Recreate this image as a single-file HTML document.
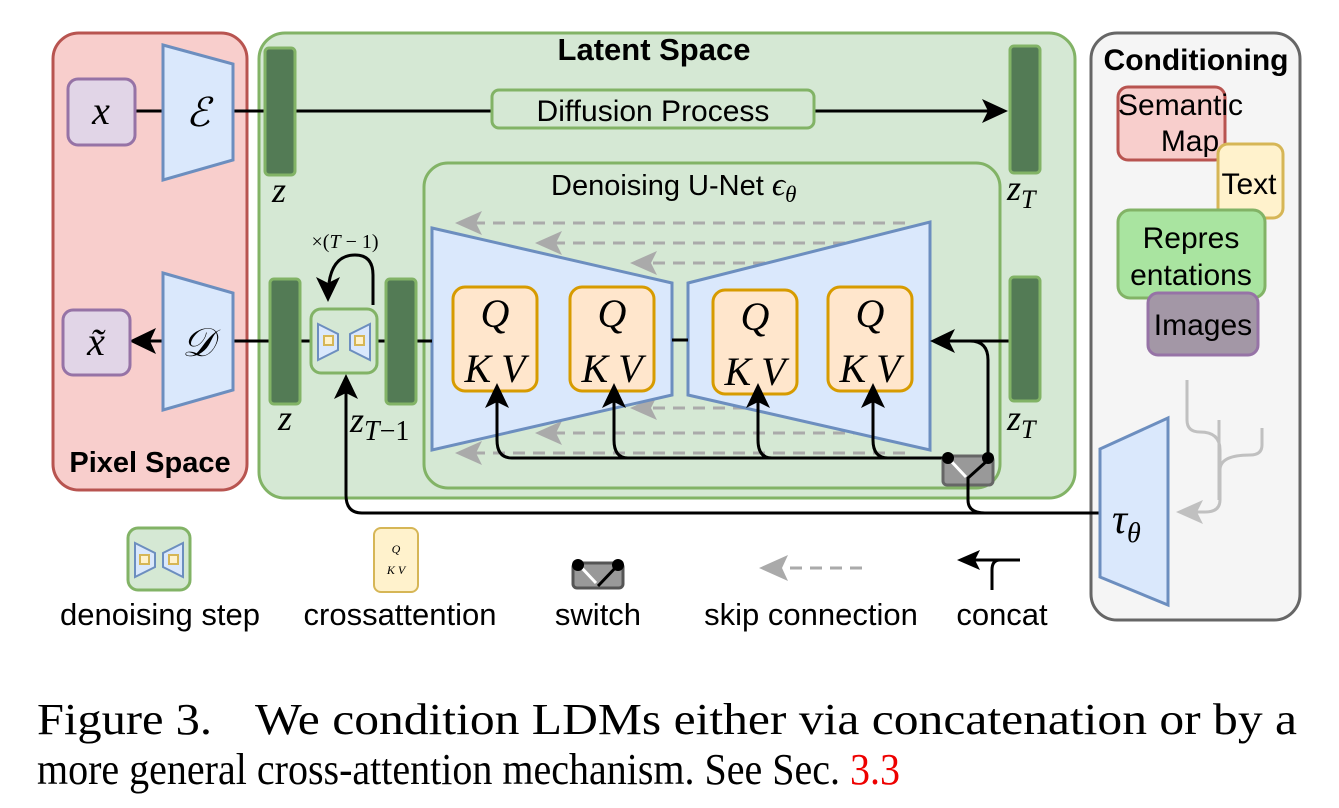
<!DOCTYPE html>
<html><head><meta charset="utf-8"><style>
html,body{margin:0;padding:0;background:#fff;}
svg{display:block}
.s{font-family:"Liberation Sans",sans-serif;}
.m{font-family:"Liberation Serif",serif;font-style:italic;}
</style></head><body>
<svg width="1339" height="808" viewBox="0 0 1339 808" xmlns="http://www.w3.org/2000/svg">
<rect x="53" y="33" width="194" height="457" rx="26" fill="#f8cecc" stroke="#b85450" stroke-width="3"/>
<rect x="259" y="33" width="816" height="465" rx="26" fill="#d5e8d4" stroke="#82b366" stroke-width="3"/>
<rect x="1091" y="33" width="209" height="587" rx="26" fill="#f5f5f5" stroke="#666" stroke-width="3"/>
<text x="654" y="60" class="s" font-size="31" font-weight="bold" text-anchor="middle">Latent Space</text>
<text x="1196" y="70" class="s" font-size="30" font-weight="bold" text-anchor="middle">Conditioning</text>
<text x="150" y="472" class="s" font-size="29" font-weight="bold" text-anchor="middle">Pixel Space</text>

<line x1="135" y1="111" x2="163" y2="111" stroke="#000" stroke-width="3"/>
<line x1="233" y1="111" x2="998" y2="111" stroke="#000" stroke-width="3"/>
<polygon points="1008,111 982,99 988,111 982,123" fill="#000"/>
<rect x="68" y="79" width="67" height="66" rx="10" fill="#e1d5e7" stroke="#9673a6" stroke-width="3"/>
<text x="101" y="124" class="m" font-size="40" text-anchor="middle">x</text>
<polygon points="163,45 233,64 233,160 163,180" fill="#dae8fc" stroke="#6c8ebf" stroke-width="3"/>
<text x="198" y="126" class="m" font-size="40" text-anchor="middle">ℰ</text>
<rect x="265" y="48" width="30" height="127" rx="4" fill="#537b55" stroke="#82b366" stroke-width="3"/>
<text x="279" y="202" class="m" font-size="36" text-anchor="middle">z</text>
<rect x="492" y="90" width="322" height="38" rx="7" fill="#d5e8d4" stroke="#82b366" stroke-width="3"/>
<text x="653" y="121" class="s" font-size="30" text-anchor="middle">Diffusion Process</text>
<rect x="1010" y="46" width="30" height="127" rx="4" fill="#537b55" stroke="#82b366" stroke-width="3"/>
<text x="1007" y="200" class="m" font-size="36">z<tspan font-size="26" dy="8">T</tspan></text>

<rect x="424" y="163" width="576" height="325" rx="24" fill="#d5e8d4" stroke="#82b366" stroke-width="3"/>
<text x="551" y="195" class="s" font-size="29">Denoising U-Net <tspan class="m" font-size="33">ϵ</tspan><tspan class="m" font-size="23" dy="7">θ</tspan></text>

<g stroke="#aaa" stroke-width="3" stroke-dasharray="12,8" fill="none">
<line x1="905" y1="223" x2="470" y2="223"/>
<line x1="905" y1="243" x2="550" y2="243"/>
<line x1="905" y1="263" x2="645" y2="263"/>
<line x1="905" y1="408" x2="645" y2="408"/>
<line x1="905" y1="433" x2="550" y2="433"/>
<line x1="905" y1="453" x2="470" y2="453"/>
</g>
<g fill="#aaa">
<polygon points="455,223 482,211 476,223 482,235"/>
<polygon points="535,243 562,231 556,243 562,255"/>
<polygon points="630,263 657,251 651,263 657,275"/>
<polygon points="630,408 657,396 651,408 657,420"/>
<polygon points="535,433 562,421 556,433 562,445"/>
<polygon points="455,453 482,441 476,453 482,465"/>
</g>

<polygon points="432,228 672,283 672,395 432,450" fill="#dae8fc" stroke="#6c8ebf" stroke-width="3"/>
<polygon points="688,283 930,222 930,450 688,395" fill="#dae8fc" stroke="#6c8ebf" stroke-width="3"/>
<line x1="672" y1="340" x2="688" y2="340" stroke="#000" stroke-width="3"/>
<g fill="#ffe6cc" stroke="#d79b00" stroke-width="3">
<rect x="453" y="287" width="84" height="104" rx="12"/>
<rect x="570" y="287" width="84" height="104" rx="12"/>
<rect x="713" y="290" width="84" height="104" rx="12"/>
<rect x="828" y="287" width="84" height="104" rx="12"/>
</g>
<g class="m" font-size="40" text-anchor="middle">
<text x="495" y="327">Q</text><text x="495" y="382">K V</text>
<text x="612" y="327">Q</text><text x="612" y="382">K V</text>
<text x="755" y="330">Q</text><text x="755" y="385">K V</text>
<text x="870" y="327">Q</text><text x="870" y="382">K V</text>
</g>

<g stroke="#000" stroke-width="3" fill="none">
<path d="M948,458 H512 Q497,458 497,440 V395"/>
<path d="M628,458 Q614,458 614,440 V395"/>
<path d="M772,458 Q758,458 758,440 V395"/>
<path d="M888,458 Q873,458 873,440 V395"/>
<path d="M988,458 V360 Q988,341 970,341 H940"/>
<line x1="1010" y1="341" x2="940" y2="341"/>
<path d="M968,475 V500 Q968,513 985,513 H1100"/>
<path d="M1000,513 H362 Q346,513 346,495 V385"/>
</g>
<g fill="#000">
<polygon points="497,383 485,408 497,402 509,408"/>
<polygon points="614,383 602,408 614,402 626,408"/>
<polygon points="758,383 746,408 758,402 770,408"/>
<polygon points="873,383 861,408 873,402 885,408"/>
<polygon points="930,341 955,329 949,341 955,353"/>
<polygon points="346,374 334,399 346,393 358,399"/>
</g>
<rect x="943" y="456" width="50" height="29" rx="4" fill="#999" stroke="#666" stroke-width="3"/>
<line x1="950" y1="460" x2="966" y2="477" stroke="#fff" stroke-width="3"/>
<path d="M968,490 V478 L988,460" stroke="#000" stroke-width="3" fill="none"/>
<circle cx="948" cy="458" r="6" fill="#000"/>
<circle cx="988" cy="458" r="6" fill="#000"/>

<rect x="1010" y="277" width="30" height="124" rx="4" fill="#537b55" stroke="#82b366" stroke-width="3"/>
<text x="1007" y="430" class="m" font-size="36">z<tspan font-size="26" dy="8">T</tspan></text>

<line x1="140" y1="341" x2="163" y2="341" stroke="#000" stroke-width="3"/>
<polygon points="129,341 156,328 150,341 156,354" fill="#000"/>
<line x1="233" y1="341" x2="432" y2="341" stroke="#000" stroke-width="3"/>
<rect x="63" y="310" width="67" height="65" rx="10" fill="#e1d5e7" stroke="#9673a6" stroke-width="3"/>
<text x="96" y="355" class="m" font-size="40" text-anchor="middle">x̃</text>
<polygon points="163,273 233,293 233,390 163,410" fill="#dae8fc" stroke="#6c8ebf" stroke-width="3"/>
<text x="198" y="356" class="m" font-size="40" text-anchor="middle">𝒟</text>
<rect x="270" y="279" width="30" height="125" rx="4" fill="#537b55" stroke="#82b366" stroke-width="3"/>
<text x="285" y="430" class="m" font-size="36" text-anchor="middle">z</text>
<rect x="386" y="279" width="30" height="125" rx="4" fill="#537b55" stroke="#82b366" stroke-width="3"/>
<text x="350" y="432" class="m" font-size="36">z<tspan font-size="28" dy="8">T</tspan><tspan font-size="28" font-style="normal">−1</tspan></text>
<rect x="311" y="309" width="66" height="64" rx="10" fill="#d5e8d4" stroke="#82b366" stroke-width="3"/>
<polygon points="318,324 338,334 338,350 318,360" fill="#dae8fc" stroke="#6c8ebf" stroke-width="2"/>
<polygon points="370,324 350,334 350,350 370,360" fill="#dae8fc" stroke="#6c8ebf" stroke-width="2"/>
<rect x="324" y="336" width="9" height="9" fill="#fff2cc" stroke="#d6b656" stroke-width="2"/>
<rect x="355" y="336" width="9" height="9" fill="#fff2cc" stroke="#d6b656" stroke-width="2"/>
<path d="M373,305 V275 Q373,255 355,255 Q333,255 329,283" stroke="#000" stroke-width="3" fill="none"/>
<polygon points="328,302 316,277 328,283 340,277" fill="#000"/>
<text x="345" y="248" font-family="Liberation Serif, serif" font-size="20" text-anchor="middle">×(<tspan font-style="italic">T</tspan> − 1)</text>

<rect x="1118" y="87" width="107" height="73" rx="10" fill="#f8cecc" stroke="#b85450" stroke-width="3"/>
<text x="1118" y="115" class="s" font-size="30">Semantic</text>
<text x="1190" y="151" class="s" font-size="30" text-anchor="middle">Map</text>
<rect x="1218" y="144" width="65" height="74" rx="10" fill="#fff2cc" stroke="#d6b656" stroke-width="3"/>
<text x="1249" y="194" class="s" font-size="30" text-anchor="middle">Text</text>
<rect x="1118" y="210" width="147" height="88" rx="12" fill="#a9e4a0" stroke="#82b366" stroke-width="3"/>
<text x="1191" y="248" class="s" font-size="30" text-anchor="middle">Repres</text>
<text x="1191" y="285" class="s" font-size="30" text-anchor="middle">entations</text>
<rect x="1148" y="293" width="110" height="62" rx="10" fill="#a397a6" stroke="#9673a6" stroke-width="3"/>
<text x="1203" y="335" class="s" font-size="30" text-anchor="middle">Images</text>
<g stroke="#c0c0c0" stroke-width="3" fill="none">
<path d="M1187,380 V420 Q1187,432 1200,432 Q1220,432 1220,450 V500 Q1220,512 1205,512 H1195"/>
<path d="M1219,420 V500"/>
<path d="M1262,428 V445 Q1262,455 1250,455 Q1220,455 1220,470"/>
</g>
<polygon points="1176,512 1203,500 1197,512 1203,524" fill="#c0c0c0"/>
<polygon points="1100,449 1168,418 1168,605 1100,577" fill="#dae8fc" stroke="#6c8ebf" stroke-width="3"/>
<text x="1112" y="533" class="m" font-size="42">τ<tspan font-size="28" dy="9">θ</tspan></text>

<rect x="128" y="528" width="62" height="62" rx="10" fill="#d5e8d4" stroke="#82b366" stroke-width="3"/>
<polygon points="135,543 155,553 155,567 135,577" fill="#dae8fc" stroke="#6c8ebf" stroke-width="2"/>
<polygon points="183,543 163,553 163,567 183,577" fill="#dae8fc" stroke="#6c8ebf" stroke-width="2"/>
<rect x="140" y="555" width="9" height="9" fill="#fff2cc" stroke="#d6b656" stroke-width="2"/>
<rect x="169" y="555" width="9" height="9" fill="#fff2cc" stroke="#d6b656" stroke-width="2"/>
<text x="160" y="625" class="s" font-size="31" text-anchor="middle">denoising step</text>
<rect x="374" y="528" width="44" height="64" rx="7" fill="#fff2cc" stroke="#d6b656" stroke-width="2"/>
<text x="396" y="553" class="m" font-size="12" text-anchor="middle">Q</text>
<text x="396" y="574" class="m" font-size="12" text-anchor="middle">K V</text>
<text x="400" y="625" class="s" font-size="31" text-anchor="middle">crossattention</text>
<rect x="573" y="563" width="50" height="25" rx="4" fill="#999" stroke="#555" stroke-width="3"/>
<line x1="580" y1="566" x2="596" y2="583" stroke="#fff" stroke-width="3"/>
<path d="M598,586 L618,565" stroke="#000" stroke-width="3"/>
<circle cx="578" cy="565" r="6" fill="#000"/><circle cx="618" cy="565" r="6" fill="#000"/>
<text x="598" y="625" class="s" font-size="31" text-anchor="middle">switch</text>
<line x1="790" y1="568" x2="870" y2="568" stroke="#aaa" stroke-width="3" stroke-dasharray="12,8"/>
<polygon points="759,568 788,555 782,568 788,581" fill="#aaa"/>
<text x="811" y="625" class="s" font-size="31" text-anchor="middle">skip connection</text>
<path d="M1020,560 H1000 Q992,560 992,570 V590" stroke="#000" stroke-width="3" fill="none"/>
<line x1="975" y1="560" x2="1000" y2="560" stroke="#000" stroke-width="3"/>
<polygon points="957,560 980,550 975,560 980,570" fill="#000"/>
<text x="1002" y="625" class="s" font-size="31" text-anchor="middle">concat</text>

<text x="37" y="734" font-family="Liberation Serif, serif" font-size="44" textLength="175" lengthAdjust="spacingAndGlyphs">Figure 3.</text>
<text x="255" y="734" font-family="Liberation Serif, serif" font-size="44" textLength="1042" lengthAdjust="spacingAndGlyphs">We condition LDMs either via concatenation or by a</text>
<text x="37" y="784" font-family="Liberation Serif, serif" font-size="44" textLength="863" lengthAdjust="spacingAndGlyphs">more general cross-attention mechanism. See Sec. <tspan fill="#e00">3.3</tspan></text>
</svg>
</body></html>
